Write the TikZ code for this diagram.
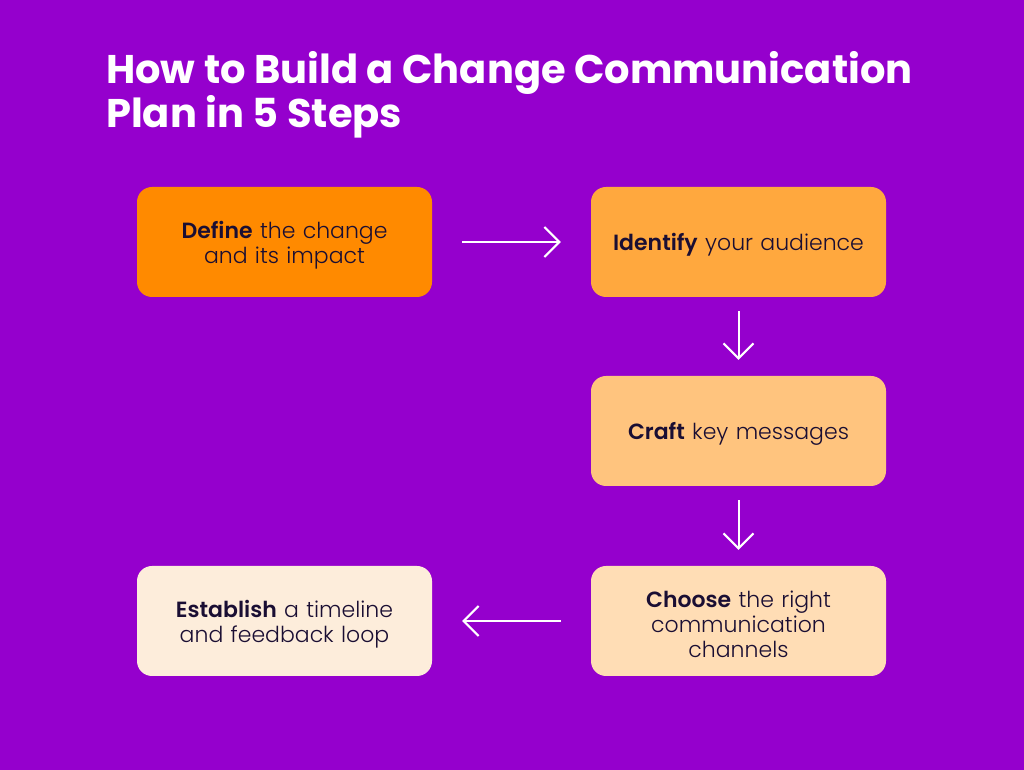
\documentclass[tikz,border=0pt]{standalone}
\usepackage{fontspec}
\setmainfont{Poppins}[UprightFont=* Light, BoldFont=* SemiBold]
\newfontfamily\titlefont{Poppins}[UprightFont=* Bold]
\usetikzlibrary{arrows.meta}
\definecolor{bgpurple}{HTML}{9500CD}
\definecolor{cA}{HTML}{FF8A00}
\definecolor{cB}{HTML}{FFA83E}
\definecolor{cC}{HTML}{FFC47E}
\definecolor{cD}{HTML}{FFDDB5}
\definecolor{cE}{HTML}{FDEDDB}
\definecolor{ink}{HTML}{1A0E33}
\tikzset{
  stepbox/.style={rounded corners=15pt, minimum width=295pt, minimum height=110pt,
    text width=270pt, align=center, inner sep=0pt, font=\fontsize{22}{25}\selectfont, text=ink,
    execute at end node={\par\vspace*{-6pt}}},
  flow/.style={draw=white, line width=2pt, -{Straight Barb[length=15pt,width=30pt,line width=2pt]}}
}
\begin{document}
\begin{tikzpicture}[x=1pt,y=1pt]
\fill[bgpurple] (0,0) rectangle (1024,770);
\useasboundingbox (0,0) rectangle (1024,770);
\node[anchor=base west, text=white, align=left, inner sep=0pt,
  font=\titlefont\fontsize{40}{43}\selectfont] (title) at (106,642)
  {How to Build a Change Communication\\Plan in 5 Steps};
\node[stepbox, fill=cA] (s1) at (284.5,528) {\textbf{Define} the change\\and its impact};
\node[stepbox, fill=cB] (s2) at (738.5,528) {\textbf{Identify} your audience};
\node[stepbox, fill=cC] (s3) at (738.5,339) {\textbf{Craft} key messages};
\node[stepbox, fill=cD] (s4) at (738.5,149) {\textbf{Choose} the right\\communication\\channels};
\node[stepbox, fill=cE] (s5) at (284.5,149) {\textbf{Establish} a timeline\\and feedback loop};
\draw[flow, shorten <=30pt, shorten >=30pt] (s1) -- (s2);
\draw[flow, shorten <=14pt, shorten >=16pt] (s2) -- (s3);
\draw[flow, shorten <=14pt, shorten >=16pt] (s3) -- (s4);
\draw[flow, shorten <=30pt, shorten >=30pt] (s4) -- (s5);
\end{tikzpicture}
\end{document}
